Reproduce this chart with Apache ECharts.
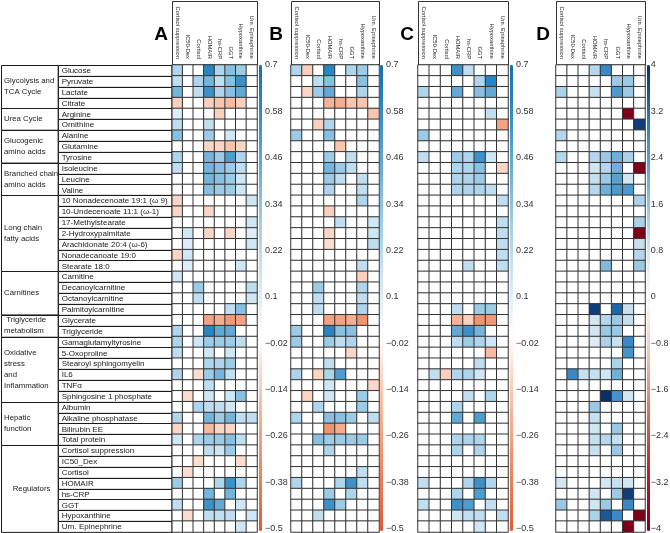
<!DOCTYPE html>
<html>
<head>
<meta charset="utf-8">
<script src="https://cdn.jsdelivr.net/npm/echarts@6/dist/echarts.min.js"></script>
<style>
  html, body { margin: 0; padding: 0; background: #fff; }
  #chart { width: 670px; height: 533px; }
</style>
</head>
<body>
<div id="chart"></div>
<script>
// row labels (metabolites / regulators), top to bottom
const rowNames = [
  'Glucose', 'Pyruvate', 'Lactate', 'Citrate', 'Arginine', 'Ornithine',
  'Alanine', 'Glutamine', 'Tyrosine', 'Isoleucine', 'Leucine', 'Valine',
  '10 Nonadecenoate 19:1 (ω 9)', '10-Undecenoate 11:1 (ω-1)', '17-Methylstearate',
  '2-Hydroxypalmitate', 'Arachidonate 20:4 (ω-6)', 'Nonadecanoate 19:0', 'Stearate 18:0',
  'Carnitine', 'Decanoylcarnitine', 'Octanoylcarnitine', 'Palmitoylcarnitine',
  'Glycerate', 'Triglyceride',
  'Gamaglutamyltyrosine', '5-Oxoproline', 'Stearoyl sphingomyelin', 'IL6', 'TNFα', 'Sphingosine 1 phosphate',
  'Albumin', 'Alkaline phosphatase', 'Bilirubin EE', 'Total protein',
  'Cortisol suppression', 'IC50_Dex', 'Cortisol', 'HOMAIR', 'hs-CRP', 'GGT', 'Hypoxanthine', 'Urn. Epinephrine'
]

// group labels and how many rows each spans
const groupNames = [
  'Glycolysis and\nTCA Cycle', 'Urea Cycle', 'Glucogenic\namino acids', 'Branched chain\namino acids',
  'Long chain\nfatty acids', 'Carnitines', ' Triglyceride\nmetabolism', 'Oxidative\nstress\nand\nInflammation',
  'Hepatic\nfunction', '    Regulators'
]
const groupSizes = [4, 2, 3, 3, 7, 4, 2, 6, 4, 8]

// column headers (same for all four panels)
const colNames = ['Cortisol suppression', 'IC50-Dex', 'Cortisol', 'HOMAIR', 'hs-CRP', 'GGT', 'Hypoxanthine', 'Urn. Epinephrine']

// colour bar tick labels, bottom to top
const ticksABC = ['−0.5', '−0.38', '−0.26', '−0.14', '−0.02', '0.1', '0.22', '0.34', '0.46', '0.58', '0.7']
const ticksD = ['−4', '−3.2', '−2.4', '−1.6', '−0.8', '0', '0.8', '1.6', '2.4', '3.2', '4']

// panel values, one row per metabolite, columns in colNames order
const panelA = [
  [0.25, 0, 0, 0.6, 0.25, 0.35, 0.3, 0],
  [0.2, 0, 0.25, 0.4, 0.2, 0.35, 0.55, 0],
  [0.4, 0, 0.2, 0.55, 0.25, 0.35, 0.45, 0],
  [-0.12, 0, 0, -0.12, -0.15, -0.18, -0.12, 0],
  [0.1, 0, 0, 0, -0.12, 0, 0, 0],
  [0.2, 0, 0, 0.2, 0, 0, 0, 0],
  [0.35, 0, 0, 0.3, 0, 0.15, 0, 0],
  [0, 0, 0, -0.1, -0.1, -0.15, -0.1, 0],
  [0.25, 0, 0, 0.4, 0.3, 0.5, 0.25, 0],
  [0.2, 0, 0, 0.4, 0.35, 0.3, 0.2, 0],
  [0, 0, 0, 0.4, 0.35, 0.3, 0.15, 0],
  [0, 0, 0, 0.35, 0.3, 0.3, 0.15, 0],
  [-0.1, 0, 0, 0, 0, 0, 0, 0.15],
  [-0.1, 0, 0, -0.1, 0, 0, 0, 0],
  [0, 0, 0, 0, 0, 0, 0, 0.15],
  [0, 0.15, 0, -0.1, 0, -0.1, 0, 0.1],
  [0, 0.1, 0, 0, 0, 0, 0, 0.15],
  [-0.1, 0.15, 0, 0, 0, 0, 0, 0],
  [0, 0.1, 0, 0, 0, 0, 0.15, 0],
  [0.15, 0, 0, 0, 0, 0, 0, 0],
  [0, 0, 0.3, 0, 0, 0, 0, 0.2],
  [0, 0, 0.2, 0, 0, 0, 0, 0.15],
  [0, 0, 0, 0, 0, 0.2, 0.35, 0],
  [0, 0, 0, -0.25, -0.22, -0.28, -0.25, 0],
  [0.25, 0, 0, 0.6, 0.45, 0.45, 0, 0],
  [0.25, 0, 0.15, 0.3, 0.3, 0.3, 0.2, 0],
  [0.2, 0, 0, 0.15, 0, 0.15, 0, 0],
  [0, 0, 0, 0.25, 0.25, 0.3, 0, 0],
  [0.25, 0, -0.08, 0.3, 0.4, 0.2, 0, 0],
  [0, 0, 0, 0.2, 0, 0, 0, 0],
  [0, -0.08, 0, 0.15, 0, 0.15, 0.35, 0],
  [0, 0, 0.25, 0.2, 0.2, 0.15, 0, 0],
  [0.25, 0, 0, 0.4, 0.3, 0.4, 0.2, 0.2],
  [-0.1, 0, 0, -0.18, -0.1, -0.1, 0, 0],
  [0.15, 0, 0.25, 0.3, 0.3, 0.35, 0.2, 0],
  [0, 0, 0, 0.2, 0.15, 0.3, 0, 0],
  [0, 0, -0.08, 0, 0, 0, -0.08, 0],
  [0, -0.08, 0, 0, 0, 0, 0, 0],
  [0.3, 0, 0, 0, 0.25, 0.55, 0.25, 0],
  [0, 0, 0, 0.4, 0, 0.4, 0, 0],
  [0.2, 0, 0, 0.55, 0.45, 0, 0.15, 0],
  [0, -0.08, 0, 0.2, 0.2, 0.2, 0, 0.15],
  [0, 0, 0, 0, 0, 0, 0.15, 0]
]

const panelB = [
  [0.25, -0.12, 0, 0.6, 0, 0.25, 0.3, 0],
  [0, 0, 0.2, 0.35, 0, 0, 0.35, 0],
  [0, -0.1, 0.3, 0.45, 0, 0, 0.25, 0],
  [0, 0, 0, -0.2, -0.22, -0.15, -0.15, 0],
  [0, 0, 0, 0, 0, 0, 0, -0.15],
  [0, 0, -0.12, 0.25, 0, 0, 0, 0],
  [0.3, 0, 0, 0.35, 0, 0, 0, 0],
  [0, 0, 0, 0, -0.15, 0, 0, 0],
  [0, 0, 0, 0.3, 0, 0.2, 0, 0],
  [0, 0, 0, 0.4, 0.3, 0.2, 0, 0],
  [0, 0, 0, 0.3, 0.2, 0, 0.2, 0],
  [0, 0, 0, 0.25, 0, 0, 0.2, 0],
  [0, 0, 0, 0, 0, 0, 0.25, 0],
  [0, 0, 0, -0.12, 0, 0, 0, 0],
  [0, 0, 0, 0, 0.2, 0, 0, 0.15],
  [0, 0, 0, -0.1, 0, 0, 0, 0.15],
  [0, 0, 0, -0.08, 0, 0, 0, 0.2],
  [0, 0, 0, 0, 0, 0, 0, 0],
  [0, 0, 0, 0, 0, 0, 0.2, 0],
  [0, 0, 0, 0, 0, 0, -0.12, 0],
  [0, 0, 0.3, 0, 0, 0, 0.25, 0],
  [0, 0, 0.2, 0, 0, 0, 0.2, 0],
  [0, 0, 0.2, 0, 0, 0, 0.25, 0],
  [0, 0, 0, -0.25, -0.25, -0.22, -0.3, 0],
  [0.3, 0, 0, 0.6, 0.35, 0.35, 0, 0],
  [0.3, 0, 0, 0.3, 0.2, 0.25, 0, 0],
  [0, 0, 0, 0, 0, -0.1, 0, 0],
  [0, 0, 0, 0.2, 0, 0, 0, 0],
  [0.25, 0, -0.1, 0.25, 0.5, 0, 0, 0],
  [0, 0, 0, 0.15, 0, 0, 0, -0.1],
  [0, -0.1, 0, 0.15, 0, 0, 0.3, 0],
  [0, 0, 0.25, 0, 0, 0, 0.3, 0],
  [0.25, 0, 0, 0.35, 0.35, 0.3, 0, 0.2],
  [0, 0, 0, -0.3, -0.22, 0, 0, 0],
  [0, 0, 0.35, 0.3, 0.3, 0.3, 0.3, 0],
  [0, 0, 0, 0.25, 0, 0, 0, 0],
  [0, 0, 0, 0, 0, 0, 0, 0],
  [0, 0, 0, 0, 0, 0, 0.2, 0],
  [0.25, 0, 0, 0, 0.25, 0.55, 0.2, 0],
  [0, 0, 0, 0.3, 0, 0.25, 0, 0],
  [0, 0, 0, 0.55, 0.3, 0, 0, 0],
  [0, 0, 0.2, 0, 0, 0, 0, 0],
  [0, 0, 0, 0, 0, 0, 0, 0]
]

const panelC = [
  [0, 0, 0, 0.55, 0.2, 0, 0, 0],
  [0, 0, 0, 0, 0, 0.25, 0.6, 0],
  [0.25, 0, 0, 0.45, 0, 0.35, 0.45, 0],
  [0, 0, 0, 0, 0, 0, 0, 0],
  [0, 0, 0, 0, 0, 0, 0.2, 0],
  [0, 0, 0, 0, 0, 0, 0, -0.25],
  [0.3, 0, 0, 0, 0, 0, 0, 0],
  [0, 0, 0, 0, 0, 0, 0, 0],
  [0.2, 0, 0, 0.3, 0.25, 0.55, 0.15, 0],
  [0, 0, 0, 0.25, 0.25, 0.35, 0, -0.1],
  [0, 0, 0, 0.25, 0.25, 0.3, 0, 0],
  [0, 0, 0, 0.25, 0.25, 0.25, 0.2, 0],
  [0, 0, 0, 0, 0, 0, 0, 0.2],
  [0, 0, 0, 0, 0, 0, 0, 0],
  [0, 0, 0, 0, 0, 0, 0, 0.2],
  [0, 0, 0, 0, 0, 0, 0, 0.2],
  [0, 0, 0, 0, 0, 0, 0, 0.2],
  [0, 0, 0, 0, 0, 0, 0, 0.2],
  [0, 0, 0, 0, 0.2, 0, 0, 0.2],
  [0, 0, 0, 0, 0, 0, 0, 0],
  [0, 0, 0, 0, 0, 0, 0, 0],
  [0, 0, 0, 0, 0, 0, 0, 0],
  [0, 0, 0, 0.2, 0, 0.3, 0.3, 0],
  [0, 0, 0, -0.2, -0.12, -0.3, -0.28, 0],
  [0, 0, 0, 0.45, 0.55, 0.4, 0, 0],
  [0, 0, 0, 0.2, 0.3, 0.25, 0.15, 0],
  [0, 0, 0, 0, 0, 0, -0.18, 0],
  [0, 0, 0, 0, 0, 0.2, 0, 0],
  [0, 0.2, -0.12, 0.25, 0.25, 0.15, 0, 0],
  [0, 0, 0, 0, 0, 0, 0, 0],
  [0, 0, 0, 0, 0.2, 0, 0.25, 0],
  [0, 0, 0, 0.25, 0, 0, 0, 0],
  [0, 0, 0, 0.45, 0, 0.5, 0, 0],
  [0, 0, 0, 0, 0, 0, 0, 0],
  [0, 0, 0, 0.25, 0.25, 0.25, 0, 0],
  [0, 0, 0, 0.25, 0, 0.25, 0, 0],
  [0, 0, 0, 0, 0, 0, 0, 0],
  [0, 0, 0, 0, 0, 0, 0, 0],
  [0.2, 0, 0, 0, 0.25, 0.55, 0.25, 0],
  [0, 0, 0, 0.25, 0, 0.5, 0, 0],
  [0.2, 0, 0, 0.55, 0.5, 0, 0.2, 0],
  [0, 0, 0, 0.15, 0.2, 0.2, 0, 0.2],
  [0, 0, 0, 0, 0, 0.15, 0, 0]
]

const panelD = [
  [0, 0, 0, 1.2, 2.8, 0, 0, 0],
  [0, 0, 0, 0, 0, 1.5, 1.5, 0],
  [1.3, 0, 0, 1.0, 0, 2.5, 1.5, 0],
  [0, 0, 0, 0, 0, 0, 0, 0],
  [0, 0, 0, 0, 0, 0, -4, 0],
  [0, 0, 0, 0, 0, 0, 0, 3.8],
  [1.2, 0, 0, 0, 0, 0, 0, 0],
  [0, 0, 0, 0, 0, 0, 0, 0],
  [1.2, 0, 0, 1.2, 1.5, 2.0, 1.3, 0],
  [0, 0, 0, 0.8, 1.2, 2.0, 0, -4],
  [0, 0, 0, 1.0, 1.5, 2.3, 0.8, 0],
  [0, 0, 0, 1.2, 2.0, 2.5, 2.5, 0],
  [0, 0, 0, 0, 0, 0, 0, 1.3],
  [0, 0, 0, 0, 0, 0, 0, 0],
  [0, 0, 0, 0, 0, 0, 0, 1.3],
  [0, 0, 0, 0, 0, 0, 0, -4],
  [0, 0, 0, 0, 0, 0, 0, 1.0],
  [0, 0, 0, 0, 0, 0, 0, 1.2],
  [0, 0, 0, 0, 1.8, 0, 0, 1.5],
  [0, 0, 0, 0, 0, 0, 0, 0],
  [0, 0, 0, 0, 0, 0, 0, 0],
  [0, 0, 0, 0, 0, 0, 0, 0],
  [0, 0, 0, 3.8, 0, 3.3, 1.0, 0],
  [0, 0, 0, 0.8, 1.2, 1.5, 1.0, 0],
  [0, 0, 0, 0.8, 1.5, 1.5, 0, 0],
  [0, 0, 0, 0.6, 1.3, 1.0, 2.8, 0],
  [0, 0, 0, 0, 0, 0, 2.6, 0],
  [0, 0, 0, 0, 0, 1.3, 0, 0],
  [0, 2.8, 1.0, 1.0, 0.8, 2.0, 0, 0],
  [0, 0, 0, 0, 0, 0, 0, 0],
  [0, 0, 0, 0, 4, 2.6, 0.8, 0],
  [0, 0, 0, 1.5, 0, 0, 0, 0],
  [0, 0, 0, 1.0, 0, 0, 0, 0],
  [0, 0, 0, 0.8, 0, 1.5, 0, 0],
  [0, 0, 0, 1.0, 1.2, 1.0, 0, 0],
  [0, 0, 0, 1.0, 0, 1.5, 0, 0],
  [0, 0, 0, 0, 0, 0, 0, 0],
  [0, 0, 0, 0, 0, 0, 0, 0],
  [0.8, 0, 0, 0, 0.8, 1.0, 0.8, 0],
  [0, 0, 0, 0.8, 0, 1.5, 3.8, 0],
  [1.5, 0, 0, 0.8, 1.5, 0, 2.8, 0],
  [0, 0, 0, 1.3, 3.5, 2.8, 0, -4],
  [0, 0, 0, 0, 0, 0, -4, 0]
]

// colour stops: A-C from -0.5 to 0.7 (step 0.1), D from -4 to 4 (step 1)
const colorsABC = ['#e25a37', '#ea7552', '#f0936f', '#f6b398', '#fbd6c6', '#ffffff',
  '#deeef8', '#c0def0', '#9ccbe6', '#76b5db', '#4e9dcf', '#2a86c2', '#146fae']
const colorsD = ['#7f0018', '#b4232e', '#dc6a58', '#f6c2ae', '#ffffff', '#c6e0f0', '#6fb0da', '#2a7fc0', '#0b2e68']

const FONT = "'Liberation Sans', Arial, sans-serif"
const TOP = 65
const HEIGHT = 467

// panel layout: heatmap left / width, colour bar x, letter x
const panels = [
  { name: 'A', data: panelA, left: 172, width: 85, bar: 259, letter: 161 },
  { name: 'B', data: panelB, left: 291, width: 88, bar: 380, letter: 276 },
  { name: 'C', data: panelC, left: 418, width: 90, bar: 510, letter: 407 },
  { name: 'D', data: panelD, left: 556, width: 89, bar: 647, letter: 543 }
]

const chart = echarts.init(document.getElementById('chart'), null, { renderer: 'canvas' })

const toCells = (rows) => {
  const out = []
  rows.forEach((row, r) => row.forEach((v, c) => out.push([c, r, v])))
  return out
}

// group boxes: [x, firstRow, lastRow]
const groupData = []
let start = 0
groupSizes.forEach(n => {
  groupData.push([0, start, start + n - 1])
  start += n
})

const grids = [{ left: 1, top: TOP, width: 170, height: HEIGHT }]
const xAxes = [{ type: 'value', gridIndex: 0, min: 0, max: 3, show: false }]
const yAxes = [{ type: 'category', gridIndex: 0, data: rowNames, inverse: true, show: false }]
const series = []
const visualMaps = []
const graphics = []

panels.forEach((p, i) => {
  const isD = p.name === 'D'
  // heatmap grid
  const hg = grids.length
  grids.push({ left: p.left, top: TOP, width: p.width, height: HEIGHT })
  xAxes.push({
    type: 'category', gridIndex: hg, data: colNames, position: 'top',
    axisLine: { show: false }, axisTick: { show: false },
    axisLabel: { rotate: 90, interval: 0, fontSize: 5.8, margin: 6, color: '#222', fontFamily: FONT }
  })
  yAxes.push({ type: 'category', gridIndex: hg, data: rowNames, inverse: true, show: false })
  series.push({
    type: 'heatmap', xAxisIndex: xAxes.length - 1, yAxisIndex: yAxes.length - 1,
    data: toCells(p.data),
    itemStyle: { borderColor: '#333', borderWidth: 1 },
    emphasis: { disabled: true }
  })
  visualMaps.push({
    type: 'continuous', seriesIndex: i,
    min: isD ? -4 : -0.5, max: isD ? 4 : 0.7,
    inRange: { color: isD ? colorsD : colorsABC },
    left: p.bar, top: TOP, itemWidth: 3, itemHeight: HEIGHT - 1,
    padding: 0, calculable: false, hoverLink: false
  })
  // tick labels for the colour bar
  const bg = grids.length
  grids.push({ left: p.bar, top: TOP, width: 3, height: HEIGHT - 1 })
  xAxes.push({ type: 'value', gridIndex: bg, show: false })
  yAxes.push({
    type: 'category', gridIndex: bg, data: isD ? ticksD : ticksABC,
    boundaryGap: false, position: 'right',
    axisLine: { show: false },
    axisTick: { show: true, length: 2, lineStyle: { color: '#555' } },
    axisLabel: { interval: 0, fontSize: 9, margin: 3, color: '#333', fontFamily: FONT }
  })
  // header box and panel letter
  graphics.push({
    type: 'rect', shape: { x: p.left + 0.5, y: 1.5, width: p.width, height: TOP - 1.5 },
    style: { fill: 'none', stroke: '#333', lineWidth: 1 }
  })
  graphics.push({
    type: 'text', style: {
      x: p.letter, y: 35, text: p.name, align: 'center', verticalAlign: 'middle',
      fontSize: 19, fontWeight: 'bold', fontFamily: FONT, fill: '#000'
    }
  })
})

// table of metabolite names
series.push({
  type: 'custom', xAxisIndex: 0, yAxisIndex: 0,
  data: rowNames.map((n, r) => [1, r]),
  encode: { x: 0, y: 1 },
  renderItem: (params, api) => {
    const r = api.value(1)
    const a = api.coord([1, r])
    const b = api.coord([3, r])
    const h = api.size([0, 1])[1]
    return {
      type: 'group',
      children: [
        { type: 'rect', shape: { x: Math.round(a[0]) + 0.5, y: Math.round(a[1] - h / 2) + 0.5, width: b[0] - a[0], height: h },
          style: { fill: '#fff', stroke: '#1a1a1a', lineWidth: 1 } },
        { type: 'text', style: { x: a[0] + 4, y: a[1] + 0.5, text: rowNames[params.dataIndex], align: 'left', verticalAlign: 'middle',
          fontSize: 8, fontFamily: FONT, fill: '#1a1a1a' } }
      ]
    }
  }
})

// metabolite group boxes
series.push({
  type: 'custom', xAxisIndex: 0, yAxisIndex: 0,
  data: groupData,
  encode: { x: 0, y: [1, 2] },
  renderItem: (params, api) => {
    const a = api.coord([0, api.value(1)])
    const b = api.coord([1, api.value(2)])
    const h = api.size([0, 1])[1]
    const y0 = a[1] - h / 2
    const y1 = b[1] + h / 2
    return {
      type: 'group',
      children: [
        { type: 'rect', shape: { x: Math.round(a[0]) + 0.5, y: Math.round(y0) + 0.5, width: b[0] - a[0], height: y1 - y0 },
          style: { fill: '#fff', stroke: '#1a1a1a', lineWidth: 1 } },
        { type: 'text', style: { x: a[0] + 3, y: (y0 + y1) / 2, text: groupNames[params.dataIndex], align: 'left', verticalAlign: 'middle',
          fontSize: 7.8, lineHeight: 11, fontFamily: FONT, fill: '#1a1a1a' } }
      ]
    }
  }
})

const option = {
  backgroundColor: '#fff',
  animation: false,
  grid: grids,
  xAxis: xAxes,
  yAxis: yAxes,
  visualMap: visualMaps,
  graphic: graphics,
  series: series
}

chart.setOption(option)
</script>
</body>
</html>
